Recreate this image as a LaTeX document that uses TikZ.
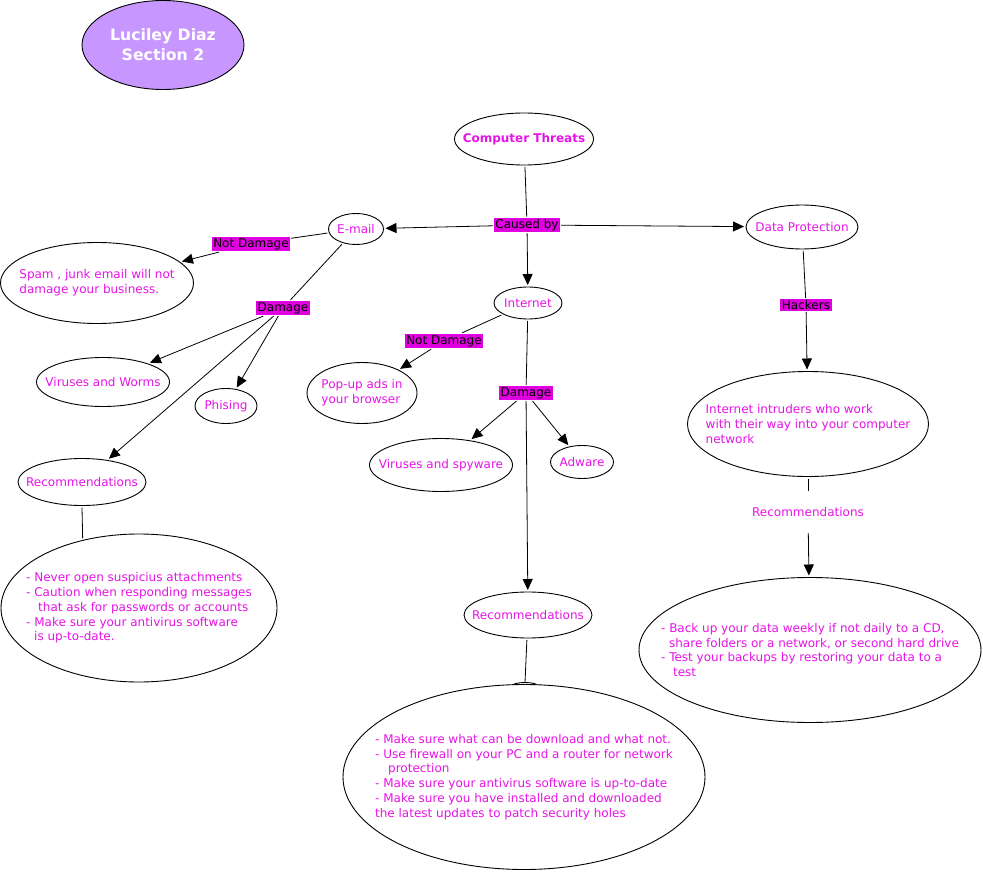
\documentclass[tikz,border=0pt]{standalone}
\usepackage{fontspec}
\setmainfont{DejaVu Sans}
\usetikzlibrary{shapes.geometric,arrows.meta}
\definecolor{tc}{RGB}{230,20,230}
\definecolor{lbg}{RGB}{224,0,224}
\definecolor{lav}{RGB}{200,150,255}
\newcommand\tf{\fontsize{12}{14.7}\selectfont}
\tikzset{
  ell/.style={ellipse,draw,line width=0.9pt,inner sep=0pt,outer sep=2pt,fill=white},
  etxt/.style={text=tc,font=\tf,align=left,inner sep=0pt},
  lab/.style={fill=lbg,text=black,font=\tf,inner sep=1.5pt,outer sep=1pt},
  con/.style={line width=0.8pt},
  arr/.style={line width=0.8pt,-{Triangle[length=11pt,width=10pt]}},
}
\begin{document}
\begin{tikzpicture}[x=1pt,y=-1pt]
\useasboundingbox (0,0) rectangle (983,872);
% title
\node[ell,fill=lav,minimum width=162pt,minimum height=89pt,
  label={[text=white,font=\fontsize{15.7}{20}\selectfont\bfseries,align=center]center:{Luciley Diaz\\Section 2}}] (title) at (163,45) {};
% main
\node[ell,minimum width=139pt,minimum height=52pt,
  label={[etxt,font=\tf\bfseries]center:{Computer Threats}}] (ct) at (524,139) {};
\node[lab] (cb) at (527,225) {Caused by};
\node[ell,minimum width=55pt,minimum height=31pt,label={[etxt]center:{E-mail}}] (email) at (356,229) {};
\node[ell,minimum width=112pt,minimum height=44pt,label={[etxt]center:{Data Protection}}] (dp) at (802,227) {};
\node[ell,minimum width=68pt,minimum height=32pt,label={[etxt]center:{Internet}}] (inet) at (528,303) {};
% e-mail branch
\node[lab] (nd1) at (251,244) {Not Damage};
\node[ell,minimum width=193pt,minimum height=81pt,
  label={[etxt]center:{Spam , junk email will not\\damage your business.}}] (spam) at (97,283) {};
\node[lab] (dm1) at (283,308) {Damage};
\node[ell,minimum width=133pt,minimum height=49pt,label={[etxt]center:{Viruses and Worms}}] (vw) at (103,382) {};
\node[ell,minimum width=62pt,minimum height=35pt,label={[etxt]center:{Phising}}] (ph) at (226,406) {};
\node[ell,minimum width=128pt,minimum height=47pt,label={[etxt]center:{Recommendations}}] (recL) at (82,482) {};
\node[ell,minimum width=276pt,minimum height=148pt,
  label={[etxt]center:{- Never open suspicius attachments\\- Caution when responding messages\\\hspace*{12pt}that ask for passwords or accounts\\- Make sure your antivirus software\\\hspace*{8pt}is up-to-date.}}] (bigL) at (139,608) {};
% internet branch
\node[lab] (nd2) at (444,341) {Not Damage};
\node[ell,minimum width=110pt,minimum height=61pt,
  label={[etxt]center:{Pop-up ads in\\your browser}}] (pop) at (362,393) {};
\node[lab] (dm2) at (526,393) {Damage};
\node[ell,minimum width=143pt,minimum height=53pt,label={[etxt]center:{Viruses and spyware}}] (vs) at (441,465) {};
\node[ell,minimum width=63pt,minimum height=33pt,label={[etxt]center:{Adware}}] (adw) at (582,462) {};
\node[ell,minimum width=128pt,minimum height=46pt,label={[etxt]center:{Recommendations}}] (recC) at (528,615) {};
\node[ell,line width=0.9pt,outer sep=0pt,minimum width=26pt,minimum height=7pt] (bump) at (525,686) {};
\node[ell,minimum width=362pt,minimum height=185pt,
  label={[etxt]center:{- Make sure what can be download and what not.\\- Use firewall on your PC and a router for network\\\hspace*{13pt}protection\\- Make sure your antivirus software is up-to-date\\- Make sure you have installed and downloaded\\the latest updates to patch security holes}}] (bigC) at (524,777) {};
% data protection branch
\node[lab] (hk) at (806,305) {Hackers};
\node[ell,minimum width=241pt,minimum height=105pt,
  label={[etxt]center:{Internet intruders who work\\with their way into your computer\\network}}] (intr) at (808,424) {};
\node[etxt,minimum height=42pt] (rec3) at (808,512) {Recommendations};
\node[ell,minimum width=342pt,minimum height=145pt,
  label={[etxt]center:{- Back up your data weekly if not daily to a CD,\\\hspace*{8pt}share folders or a network, or second hard drive\\- Test your backups by restoring your data to a\\\hspace*{12pt}test}}] (bigR) at (810,650) {};
% connectors
\draw[con] (ct) -- (cb);
\draw[arr] (cb) -- (email);
\draw[arr] (cb) -- (dp);
\draw[arr] (cb) -- (inet);
\draw[con] (email) -- (nd1);
\draw[arr] (nd1) -- (spam);
\draw[con] (email) -- (dm1);
\draw[arr] (dm1) -- (vw);
\draw[arr] (dm1) -- (ph);
\draw[arr] (dm1) -- (recL);
\draw[con] (recL.south) -- (bigL.129.5);
\draw[con] (inet) -- (nd2);
\draw[arr] (nd2) -- (pop);
\draw[con] (inet) -- (dm2);
\draw[arr] (dm2) -- (vs);
\draw[arr] (dm2) -- (adw);
\draw[arr] (dm2) -- (recC);
\draw[con] (recC) -- (bump.north);
\draw[con] (dp) -- (hk);
\draw[arr] (hk) -- (intr);
\draw[con] (intr) -- (rec3);
\draw[arr] (rec3) -- (bigR);
\end{tikzpicture}
\end{document}
